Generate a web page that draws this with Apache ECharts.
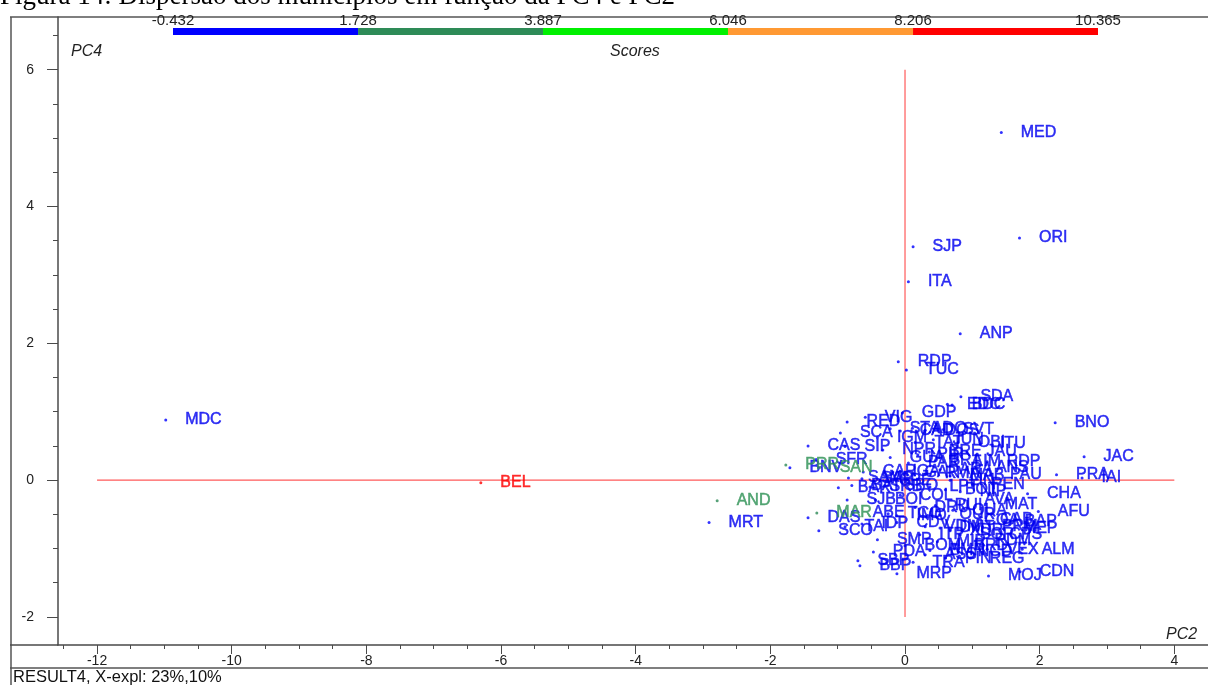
<!DOCTYPE html>
<html>
<head>
<meta charset="utf-8">
<script src="https://cdn.jsdelivr.net/npm/echarts@6/dist/echarts.min.js"></script>
<style>
  html, body { margin: 0; padding: 0; background: #ffffff; }
  #chart { width: 1208px; height: 685px; }
</style>
</head>
<body>
<div id="chart"></div>
<script>
// Municipality scores on principal components PC2 (x) and PC4 (y)
const names = [
  'MED','ORI','SJP','ITA','ANP','RDP','TUC','SDA','EDC','BDC',
  'GDP','VIG','RED','SCA','IGM','SIP','CAS','NPR','SFR','PRR',
  'BNV','SAN','BNO','JAC','PRA','IAI','CHA','AFU','ALM','CDN',
  'MOJ','NIP','QUA','MDC','BEL','AND','MRT','MAR','DAS','SCO',
  'ABE','TAI','IDP','CDV','SMP','PDA','SBP','BBP','TRA','MRP',
  'BAR','SJB','CAR','PAR','RDP','ANS','MAB','BRE','BRA','OBI',
  'ITU','SVT','STA','CAD','ADO','DOS','IGA','GAR','RMA','SAM',
  'SAP','SPE','BAT','SRB','SBO','LPT','COL','BOI','DRU','RUI',
  'TCO','IMO','CAB','COA','BAP','VDM','DMT','XDR','PRM','MEP',
  'RDM','VEX','BOM','MIR','BRD','BMN','NCD','PIR','ARA','LIM',
  'JAU','BOT','AVA','OUR','MAT','ITP','SOR','CPS','PIN','REG',
  'ASS','LIN','PEN','GUA','TAT','JUN','PAU'
];
const pc2 = [
  1.43, 1.70, 0.12, 0.05, 0.82, -0.10, 0.02, 0.83, 0.63, 0.70,
  -0.04, -0.59, -0.86, -0.96, -0.41, -0.89, -1.44, -0.33, -1.32, -1.77,
  -1.71, -1.26, 2.23, 2.66, 2.25, 2.63, 1.82, 1.98, 1.74, 1.71,
  1.24, 0.82, 0.71, -10.98, -6.30, -2.79, -2.91, -1.31, -1.44, -1.28,
  -0.77, -0.89, -0.64, -0.12, -0.41, -0.47, -0.70, -0.67, 0.12, -0.12,
  -0.99, -0.86, -0.62, 0.05, 1.22, 1.06, 0.67, 0.36, 0.37, 0.79,
  1.12, 0.57, -0.22, -0.07, 0.11, 0.30, -0.18, 0.00, 0.30, -0.84,
  -0.64, -0.37, -0.79, -0.52, -0.30, 0.37, -0.07, -0.44, 0.15, 0.45,
  -0.25, -0.12, 1.12, 0.89, 1.49, 0.30, 0.52, 0.67, 1.15, 1.46,
  1.04, 1.22, 0.00, 0.48, 0.74, 0.37, 0.79, 0.19, 0.52, 0.74,
  0.92, 0.60, 0.89, 0.52, 1.19, 0.22, 0.82, 1.26, 0.60, 0.97,
  0.30, 0.67, 1.00, -0.22, 0.15, 0.42, 1.27
];
const pc4 = [
  5.08, 3.54, 3.41, 2.90, 2.14, 1.73, 1.61, 1.22, 1.11, 1.10,
  0.98, 0.92, 0.85, 0.69, 0.62, 0.49, 0.50, 0.44, 0.30, 0.22,
  0.18, 0.19, 0.84, 0.34, 0.08, 0.03, -0.20, -0.46, -1.01, -1.34,
  -1.40, -0.17, -0.44, 0.88, -0.04, -0.30, -0.62, -0.48, -0.55, -0.74,
  -0.48, -0.68, -0.64, -0.62, -0.87, -1.05, -1.18, -1.25, -1.20, -1.37,
  -0.11, -0.29, 0.12, 0.25, 0.27, 0.19, 0.06, 0.41, 0.28, 0.55,
  0.53, 0.74, 0.75, 0.72, 0.76, 0.73, 0.12, 0.11, 0.09, 0.03,
  0.02, 0.00, -0.08, -0.10, -0.08, -0.10, -0.22, -0.29, -0.40, -0.37,
  -0.49, -0.52, -0.58, -0.59, -0.61, -0.68, -0.70, -0.74, -0.68, -0.71,
  -0.89, -1.01, -0.96, -0.90, -0.95, -1.03, -1.05, 0.37, 0.15, 0.27,
  0.41, -0.14, -0.29, -0.51, -0.36, -0.80, -0.80, -0.80, -1.14, -1.14,
  -1.09, 0.00, -0.07, 0.33, 0.55, 0.59, 0.08
];
// Score class of each municipality (index into the score bands below)
const scoreClass = names.map(n => n === 'BEL' ? 4 : (['PRR', 'SAN', 'AND', 'MAR'].includes(n) ? 1 : 0));

// Score bands for the colour scale
const scoreBreaks = [-0.432, 1.728, 3.887, 6.046, 8.206, 10.365];
const bandColors = ['#0000ff', '#2e8b57', '#00f000', '#ff9933', '#ff0000'];
const labelColors = ['#0000f0', '#2f9256', '#00d000', '#ff9933', '#ff0000'];

// Axis ticks and reference cross lines
const xTicks = [-12, -10, -8, -6, -4, -2, 0, 2, 4];
const yTicks = [-2, 0, 2, 4, 6];
const crossH = [[-12, 0], [4, 0]];
const crossV = [[0, -2], [0, 6]];

const SANS = 'Liberation Sans, Arial, sans-serif';
const AXIS_GRAY = '#4a4a4a';

const scatterSeries = bandColors.map((col, b) => ({
  type: 'scatter',
  xAxisIndex: 0,
  yAxisIndex: 0,
  symbol: 'circle',
  symbolSize: 3,
  z: 3,
  itemStyle: { color: col },
  label: {
    show: true,
    position: 'right',
    distance: 18,
    formatter: '{b}',
    fontFamily: SANS,
    fontSize: 16,
    color: labelColors[b],
    textBorderColor: labelColors[b],
    textBorderWidth: 0.5
  },
  emphasis: { disabled: true },
  data: names
    .map((n, i) => ({ name: n, value: [pc2[i], pc4[i]], cls: scoreClass[i] }))
    .filter(d => d.cls === b)
    .map(d => ({ name: d.name, value: d.value }))
}));

const bandData = bandColors.map((c, i) => [scoreBreaks[i], scoreBreaks[i + 1], i]);

const option = {
  animation: false,
  backgroundColor: '#ffffff',
  grid: [
    { left: 58, right: 0, top: 17, bottom: 40 },
    { left: 173, right: 110, top: 28, height: 7 }
  ],
  xAxis: [
    {
      gridIndex: 0, type: 'value', min: -12.58, max: 4.5, splitNumber: 8,
      axisLine: { show: true, onZero: false, lineStyle: { color: AXIS_GRAY, width: 1.5 } },
      axisTick: { show: true, length: 9, customValues: xTicks, lineStyle: { color: AXIS_GRAY } },
      minorTick: { show: true, splitNumber: 4, length: 4, lineStyle: { color: AXIS_GRAY } },
      axisLabel: { customValues: xTicks, margin: 9, fontFamily: SANS, fontSize: 14, color: '#222' },
      splitLine: { show: false }
    },
    {
      gridIndex: 1, type: 'value', position: 'top',
      min: scoreBreaks[0], max: scoreBreaks[scoreBreaks.length - 1],
      axisLine: { show: false }, axisTick: { show: false }, splitLine: { show: false },
      axisLabel: {
        customValues: scoreBreaks, margin: 0, fontFamily: SANS, fontSize: 15, color: '#222',
        formatter: v => v.toFixed(3)
      }
    }
  ],
  yAxis: [
    {
      gridIndex: 0, type: 'value', min: -2.41, max: 6.77, splitNumber: 5,
      axisLine: { show: true, onZero: false, lineStyle: { color: AXIS_GRAY, width: 1.5 } },
      axisTick: { show: true, length: 11, customValues: yTicks, lineStyle: { color: AXIS_GRAY } },
      minorTick: { show: true, splitNumber: 4, length: 5, lineStyle: { color: AXIS_GRAY } },
      axisLabel: { customValues: yTicks, margin: 24, fontFamily: SANS, fontSize: 14, color: '#222' },
      splitLine: { show: false }
    },
    { gridIndex: 1, type: 'value', min: 0, max: 1, show: false }
  ],
  series: [
    {
      type: 'line', xAxisIndex: 0, yAxisIndex: 0, data: crossH, symbol: 'none', z: 1,
      lineStyle: { color: '#ff5a5a', width: 1.2 }, silent: true
    },
    {
      type: 'line', xAxisIndex: 0, yAxisIndex: 0, data: crossV, symbol: 'none', z: 1,
      lineStyle: { color: '#ff5a5a', width: 1.2 }, silent: true
    },
    ...scatterSeries,
    {
      type: 'custom', xAxisIndex: 1, yAxisIndex: 1, silent: true,
      data: bandData,
      encode: { x: [0, 1] },
      renderItem: (params, api) => {
        const p0 = api.coord([api.value(0), 1]);
        const p1 = api.coord([api.value(1), 0]);
        return {
          type: 'rect',
          shape: { x: p0[0], y: p0[1], width: p1[0] - p0[0], height: p1[1] - p0[1] },
          style: { fill: bandColors[api.value(2)] }
        };
      }
    }
  ],
  graphic: [
    {
      type: 'text', left: 0, top: -17, silent: true,
      style: { text: 'Figura 14: Dispersão dos municípios em função da PC4 e PC2',
               font: '27px "Liberation Serif", "Times New Roman", serif', fill: '#000' }
    },
    { type: 'line', silent: true, shape: { x1: 10, y1: 17, x2: 1208, y2: 17 }, style: { stroke: '#555', lineWidth: 1.5 } },
    { type: 'line', silent: true, shape: { x1: 11, y1: 17, x2: 11, y2: 685 }, style: { stroke: '#555', lineWidth: 1.5 } },
    { type: 'line', silent: true, shape: { x1: 10, y1: 645, x2: 58, y2: 645 }, style: { stroke: AXIS_GRAY, lineWidth: 1.5 } },
    { type: 'line', silent: true, shape: { x1: 10, y1: 668, x2: 1208, y2: 668 }, style: { stroke: '#555', lineWidth: 1.5 } },
    { type: 'text', left: 71, top: 44, silent: true,
      style: { text: 'PC4', font: 'italic 16px "Liberation Sans", Arial, sans-serif', fill: '#222' } },
    { type: 'text', left: 610, top: 44, silent: true,
      style: { text: 'Scores', font: 'italic 16px "Liberation Sans", Arial, sans-serif', fill: '#222' } },
    { type: 'text', left: 1166, top: 627, silent: true,
      style: { text: 'PC2', font: 'italic 16px "Liberation Sans", Arial, sans-serif', fill: '#222' } },
    { type: 'text', left: 13, top: 669, silent: true,
      style: { text: 'RESULT4, X-expl: 23%,10%', font: '16.5px "Liberation Sans", Arial, sans-serif', fill: '#111' } }
  ]
};

const chart = echarts.init(document.getElementById('chart'), null, { renderer: 'canvas' });
chart.setOption(option);
</script>
</body>
</html>
